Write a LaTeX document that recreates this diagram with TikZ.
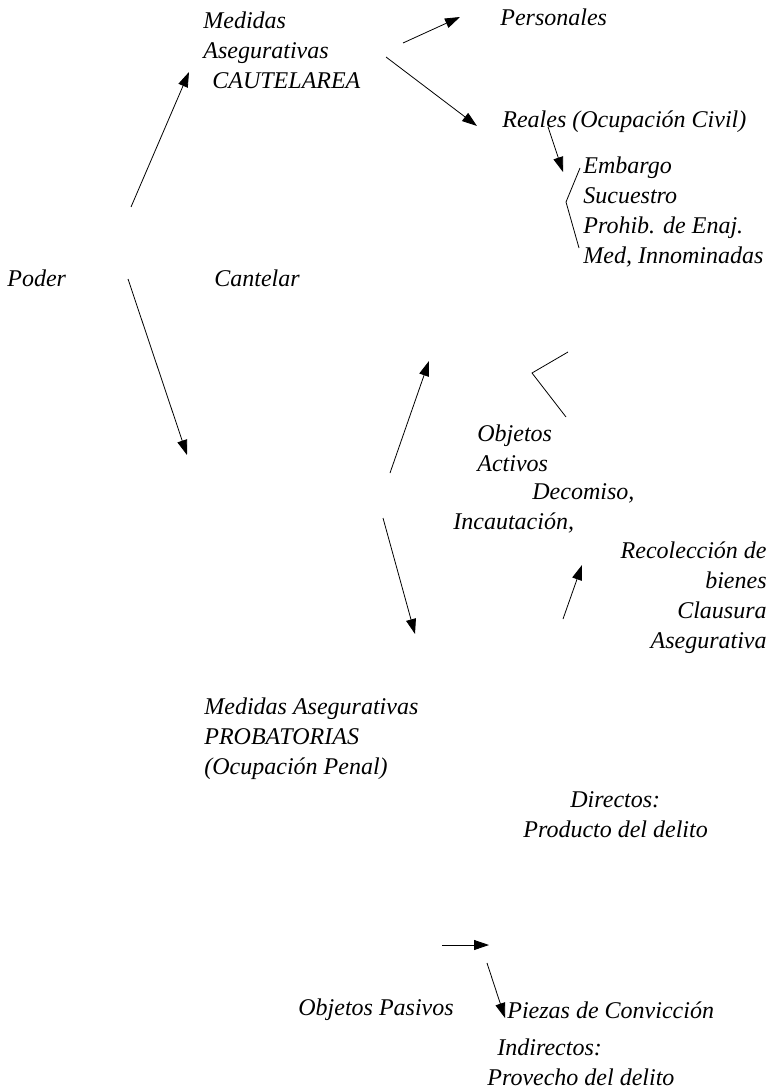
\documentclass[tikz,border=0pt]{standalone}
\usepackage{fontspec}
\setmainfont{Liberation Serif}
\usetikzlibrary{arrows.meta}
\begin{document}
\begin{tikzpicture}[x=1pt,y=-1pt,>={Triangle[length=15pt,width=10pt]},line width=0.8pt,
		font=\fontsize{24}{30}\selectfont\itshape,
		txt/.style={anchor=west,inner sep=0pt,align=left},
		rtxt/.style={anchor=east,inner sep=0pt,align=right}]
	\useasboundingbox (0,0) rectangle (770,1091);
	% textos
	\node[txt] (cautelar) at (203,50) {Medidas\\Asegurativas\\\hspace*{9pt}CAUTELAREA};
	\node[txt] (poder) at (7,278) {Poder};
	\node[txt] (cantelar) at (214,278) {Cantelar};
	\node[txt] (personales) at (500,17) {Personales};
	\node[txt] (reales) at (502,122) {Reales (Ocupación Civil)};
	\node[txt] (lista) at (583,212) {Embargo\\Sucuestro\\Prohib. de Enaj.\\Med, Innominadas};
	\node[txt] (activos) at (477,448) {Objetos\\Activos};
	\node[txt] (decomiso) at (532,493) {Decomiso,};
	\node[txt] (incaut) at (453,523) {Incautación,};
	\node[rtxt] (recol) at (767,598) {Recolección de\\bienes\\Clausura\\Asegurativa};
	\node[txt] (probat) at (204,739) {Medidas Asegurativas\\PROBATORIAS\\(Ocupación Penal)};
	\node[txt] (directos) at (523,815) {\hspace*{47pt}Directos:\\Producto del delito};
	\node[txt] (pasivos) at (298,1010) {Objetos Pasivos};
	\node[txt] (piezas) at (507,1010) {Piezas de Convicción};
	\node[txt] (indirectos) at (487,1062) {\hspace*{10pt}Indirectos:\\Provecho del delito};
	% extremos de flechas
	\coordinate (p1) at (131,207); \coordinate (c1) at (189,72);
	\coordinate (p2) at (128,279); \coordinate (c2) at (187,455);
	\coordinate (m1) at (403,43);  \coordinate (m2) at (460,17);
	\coordinate (m3) at (386,57);  \coordinate (m4) at (477,126);
	\coordinate (r1) at (548,127); \coordinate (r2) at (563,172);
	\coordinate (b1) at (580,168); \coordinate (b2) at (566,202); \coordinate (b3) at (579,248);
	\coordinate (q1) at (390,473); \coordinate (q2) at (429,361);
	\coordinate (q3) at (383,518); \coordinate (q4) at (415,634);
	\coordinate (k1) at (568,352); \coordinate (k2) at (532,373); \coordinate (k3) at (566,417);
	\coordinate (s1) at (563,619); \coordinate (s2) at (582,565);
	\coordinate (h1) at (442,945); \coordinate (h2) at (489,945);
	\coordinate (d1) at (487,963); \coordinate (d2) at (505,1018);
	% flechas
	\draw[->] (p1) -- (c1);
	\draw[->] (p2) -- (c2);
	\draw[->] (m1) -- (m2);
	\draw[->] (m3) -- (m4);
	\draw[->] (r1) -- (r2);
	\draw (b1) -- (b2) -- (b3);
	\draw[->] (q1) -- (q2);
	\draw[->] (q3) -- (q4);
	\draw (k1) -- (k2) -- (k3);
	\draw[->] (s1) -- (s2);
	\draw[->] (h1) -- (h2);
	\draw[->] (d1) -- (d2);
\end{tikzpicture}
\end{document}
